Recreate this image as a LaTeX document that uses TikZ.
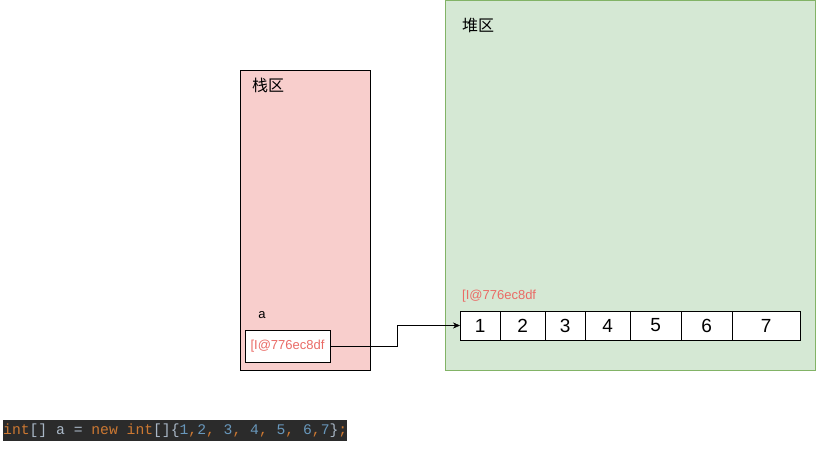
\documentclass[tikz,border=0pt]{standalone}
\usepackage{fontspec}
\usepackage{xcolor}
\usetikzlibrary{arrows.meta,positioning}
\setmainfont{Liberation Sans}
\setmonofont{Liberation Mono}
\newfontfamily\cjk{Noto Sans CJK SC}
\definecolor{stackfill}{HTML}{F8CECC}
\definecolor{heapfill}{HTML}{D5E8D4}
\definecolor{heapline}{HTML}{82B366}
\definecolor{addrred}{HTML}{EA6B66}
\definecolor{codebg}{HTML}{2B2B2B}
\definecolor{codekw}{HTML}{CC7832}
\definecolor{codeplain}{HTML}{A9B7C6}
\definecolor{codenum}{HTML}{6897BB}
\tikzset{
  area/.style={draw, inner sep=0pt, anchor=north west},
  arealabel/.style={font=\cjk\fontsize{16}{18}\selectfont, anchor=west, inner sep=0pt},
  addr/.style={font=\fontsize{13}{15}\selectfont, text=addrred, inner sep=0pt},
  slot/.style={draw, fill=white, minimum height=29pt, inner sep=0pt, anchor=west,
               font=\fontsize{19}{21}\selectfont},
  codebar/.style={fill=codebg, minimum height=19pt, inner xsep=0pt, anchor=west,
                  font=\ttfamily\fontsize{14.7}{16}\selectfont, text=codeplain},
}
\newcommand{\kw}[1]{\textcolor{codekw}{#1}}
\newcommand{\nm}[1]{\textcolor{codenum}{#1}}

\begin{document}
\begin{tikzpicture}[x=1pt, y=-1pt]
    \useasboundingbox (0,0) rectangle (816,456);
    % stack and heap
    \node[area, fill=stackfill, minimum width=130pt, minimum height=300pt] (stack) at (240,70) {};
    \node[area, fill=heapfill, draw=heapline, minimum width=370pt, minimum height=370pt] (heap) at (445,0) {};
    \node[arealabel] (stacklbl) at (252,85) {栈区};
    \node[arealabel] (heaplbl) at (462,25) {堆区};
    % variable a
    \node[font=\fontsize{13}{15}\selectfont, inner sep=0pt] (varname) at (262,315) {a};
    \node[addr, draw=black, fill=white, minimum width=85pt, minimum height=32pt] (ref) at (287.5,346) {[I@776ec8df};
    % array in the heap
    \node[addr, anchor=west] (arraddr) at (462,296) {[I@776ec8df};
    \foreach \i/\x/\w in {1/460/40, 2/500/45, 3/545/40, 4/585/45, 5/630/51, 6/681/51, 7/732/68}
      \node[slot, minimum width=\w pt] (c\i) at (\x,325.5) {\i};
    \draw[-{Stealth[length=7pt,width=6pt]}] (ref.east) -- ++(67,0) |- (c1.west);
    % the code line
    \node[codebar] (code) at (3,430.5) {\kw{int}[] a = \kw{new} \kw{int}[]\{\nm{1}\kw{,}\nm{2}\kw{,} \nm{3}\kw{,} \nm{4}\kw{,} \nm{5}\kw{,} \nm{6}\kw{,}\nm{7}\}\kw{;}};
\end{tikzpicture}
\end{document}
